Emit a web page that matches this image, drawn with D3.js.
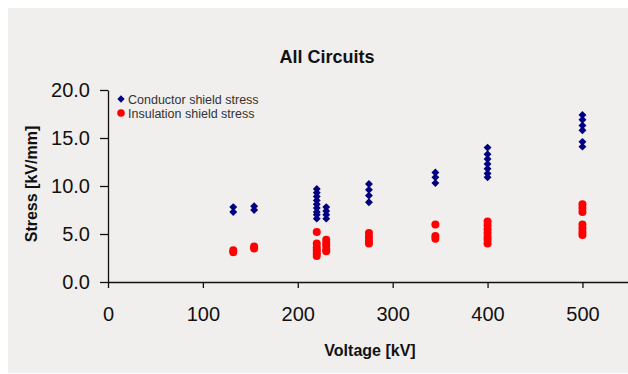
<!DOCTYPE html>
<html>
<head>
<meta charset="utf-8">
<script src="https://cdn.jsdelivr.net/npm/d3@7"></script>
<style>
  html, body { margin: 0; padding: 0; background: #fff; }
  svg { display: block; font-family: 'Liberation Sans', Arial, sans-serif; }
</style>
</head>
<body>
<script>
// voltage classes (kV) and stress readings for each one
const voltages = [132, 154, 220, 230, 275, 345, 400, 500];
const conductorStress = [
  [7.8, 7.3],
  [7.9, 7.5],
  [9.7, 9.3, 8.9, 8.5, 8.1, 7.7, 7.3, 7.0, 6.6],
  [7.8, 7.4, 7.0, 6.6],
  [10.2, 9.6, 9.0, 8.3],
  [11.4, 10.9, 10.3],
  [14.0, 13.3, 12.8, 12.3, 11.8, 11.3, 10.9],
  [17.4, 16.9, 16.3, 15.8, 14.6, 14.1]
];
const insulationStress = [
  [3.3, 3.1],
  [3.7, 3.5],
  [5.2, 4.0, 3.6, 3.3, 3.0, 2.7],
  [4.4, 4.1, 3.8, 3.4, 3.2],
  [5.1, 4.7, 4.3, 4.0],
  [6.0, 4.8, 4.5],
  [6.3, 5.9, 5.5, 5.1, 4.7, 4.4, 4.0],
  [8.1, 7.7, 7.3, 6.0, 5.6, 5.2, 4.9]
];
const xTicks = [0, 100, 200, 300, 400, 500];
const yTicks = [0, 5, 10, 15, 20];
const seriesNames = ['Conductor shield stress', 'Insulation shield stress'];

const width = 628;
const height = 374;

const svg = d3.select('body').append('svg')
    .attr('width', width)
    .attr('height', height);

// grey chart panel
svg.append('rect')
    .attr('x', 8).attr('y', 8)
    .attr('width', width - 8).attr('height', 365)
    .attr('fill', '#f1efed');

const x = d3.scaleLinear().domain([0, 548]).range([108, 628]);
const y = d3.scaleLinear().domain([0, 20]).range([282, 90]);

const flatten = (arr) => arr.flatMap((vals, i) => vals.map(v => ({ kv: voltages[i], v })));

// y axis
svg.append('g')
    .attr('transform', 'translate(108,0)')
    .call(d3.axisLeft(y).tickValues(yTicks).tickFormat(d3.format('.1f')).tickSize(8).tickPadding(10).tickSizeOuter(0))
    .call(g => g.select('.domain').attr('stroke', '#111').attr('stroke-width', 1.3))
    .call(g => g.selectAll('.tick line').attr('stroke', '#111').attr('stroke-width', 1.3))
    .call(g => g.selectAll('text').attr('fill', '#111').style('font-size', '20px'));

// x axis
svg.append('g')
    .attr('transform', 'translate(0,282)')
    .call(d3.axisBottom(x).tickValues(xTicks).tickFormat(d3.format('d')).tickSize(6).tickPadding(19).tickSizeOuter(0))
    .call(g => g.select('.domain').attr('stroke', '#111').attr('stroke-width', 1.3))
    .call(g => g.selectAll('.tick line').attr('stroke', '#111').attr('stroke-width', 1.3))
    .call(g => g.selectAll('text').attr('fill', '#111').style('font-size', '20px'));

const diamond = d3.symbol().type(d3.symbolDiamond2).size(40);

svg.append('g').selectAll('path')
    .data(flatten(conductorStress))
    .join('path')
    .attr('transform', d => `translate(${x(d.kv)},${y(d.v)})`)
    .attr('d', diamond)
    .attr('fill', '#000080');

svg.append('g').selectAll('circle')
    .data(flatten(insulationStress))
    .join('circle')
    .attr('cx', d => x(d.kv))
    .attr('cy', d => y(d.v))
    .attr('r', 4)
    .attr('fill', '#ff0000');

// legend
const legend = svg.append('g').attr('transform', 'translate(121,99)');
legend.append('path').attr('d', d3.symbol().type(d3.symbolDiamond2).size(34)).attr('fill', '#000080');
legend.append('circle').attr('cy', 14).attr('r', 3.8).attr('fill', '#ff0000');
legend.selectAll('text')
    .data(seriesNames)
    .join('text')
    .attr('x', 7)
    .attr('y', (d, i) => i * 14 + 4.5)
    .attr('fill', '#333')
    .style('font-size', '12.5px')
    .text(d => d);

// titles
svg.append('text')
    .attr('x', 327).attr('y', 63)
    .attr('text-anchor', 'middle')
    .style('font-size', '18px').style('font-weight', 'bold')
    .attr('fill', '#111')
    .text('All Circuits');

svg.append('text')
    .attr('x', 370).attr('y', 356)
    .attr('text-anchor', 'middle')
    .style('font-size', '16px').style('font-weight', 'bold')
    .attr('fill', '#111')
    .text('Voltage [kV]');

svg.append('text')
    .attr('transform', 'translate(37,184) rotate(-90)')
    .attr('text-anchor', 'middle')
    .style('font-size', '16px').style('font-weight', 'bold')
    .attr('fill', '#111')
    .text('Stress [kV/mm]');
</script>
</body>
</html>
